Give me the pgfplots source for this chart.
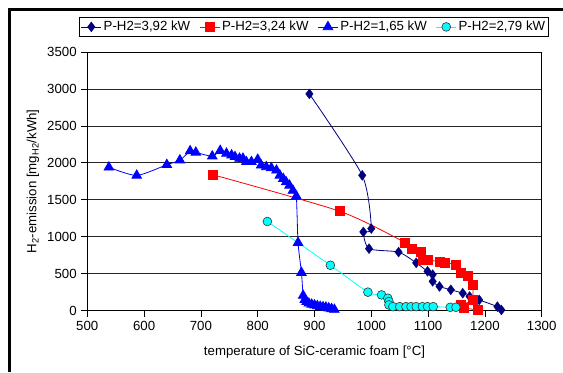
\documentclass[border=0pt]{standalone}
\usepackage{pgfplots}
\pgfplotsset{compat=1.18}
\usepackage{fontspec}
\setmainfont{Liberation Sans}
\definecolor{navyc}{RGB}{0,0,128}
\definecolor{redc}{RGB}{255,0,0}
\definecolor{bluec}{RGB}{0,0,255}
\definecolor{cyanc}{RGB}{0,255,255}
\begin{document}
\fontsize{13.3}{15}\selectfont
\begin{tikzpicture}[x=1bp,y=1bp]
\useasboundingbox (0,0) rectangle (563,372);
\draw[line width=3bp] (9.5,0) -- (9.5,362) -- (563,362);
\begin{axis}[
  at={(87.3bp,61.3bp)}, anchor=south west,
  scale only axis, width=454.4bp, height=258.7bp,
  xmin=500, xmax=1300, ymin=0, ymax=3500,
  xtick distance=100, ytick distance=500,
  ymajorgrids, grid style={black!85, line width=0.8bp},
  axis line style={line width=0.8bp},
  tick align=outside, tick pos=left, major tick length=6bp,
  tick style={black, line width=0.8bp},
  /pgf/number format/1000 sep={},
  /pgf/number format/assume math mode=true,
  ticklabel style={font=\fontsize{13.3}{15}\selectfont},
  xlabel={temperature of SiC-ceramic foam [°C]},
  ylabel={H\textsubscript{2}-emission [mg\textsubscript{H2}/kWh]},
  label style={font=\fontsize{13.3}{15}\selectfont},
  xlabel style={at={(axis description cs:0.5,-0.158)}, anchor=center},
  ylabel style={at={(axis description cs:-0.1195,0.5)}, anchor=center},
  legend columns=4,
  legend style={at={(0.499,1.097)}, anchor=center, draw=black, line width=0.6bp,
    font=\fontsize{13.3}{15}\selectfont, inner sep=1.5bp,
    /tikz/every even column/.append style={column sep=7bp}},
  legend image code/.code={%
    \draw[mark repeat=2,mark phase=2] plot coordinates {(0bp,0bp) (10bp,0bp) (20bp,0bp)};},
  legend image post style={line width=0.8bp},
]
\addplot[navyc, line width=0.8bp, smooth, tension=0.4, mark=diamond*, mark size=5bp, mark options={fill=navyc, draw=navyc, line width=0.3bp}] coordinates {
(891,2933) (984,1831) (1000,1111) (986,1066) (996,839) (1048,793) (1079,647)
(1099,533) (1108,488) (1108,397) (1120,328) (1140,283) (1161,237) (1173,192)
(1190,146) (1222,55) (1229,10)
};
\addlegendentry{P-H2=3,92 kW}
\addplot[redc, line width=0.8bp, smooth, tension=0.4, mark=square*, mark size=4.5bp, mark options={fill=redc, draw=redc}] coordinates {
(721,1840) (945,1344) (1060,920) (1071,838) (1088,793) (1091,693) (1100,693)
(1120,656) (1130,647) (1149,624) (1158,511) (1170,465) (1178,351) (1178,146)
(1158,78) (1163,40) (1187,10)
};
\addlegendentry{P-H2=3,24 kW}
\addplot[bluec, line width=0.8bp, smooth, tension=0.4, mark=triangle*, mark size=5.5bp, mark options={fill=bluec, draw=bluec}] coordinates {
(538,1940) (587,1830) (640,1975) (663,2036) (681,2160) (691,2141) (720,2090)
(734,2165) (745,2127) (754,2104) (760,2082) (768,2059) (774,2059) (780,2014)
(789,2014) (800,2045) (806,1967) (815,1945) (824,1932) (833,1899) (839,1831)
(845,1785) (850,1740) (856,1694) (862,1626) (868,1550) (871,920) (877,515)
(880,205) (883,150) (886,120) (890,100) (895,85) (900,75) (905,65) (910,55)
(915,50) (920,45) (925,35) (930,25) (935,15)
};
\addlegendentry{P-H2=1,65 kW}
\addplot[cyanc, line width=0.8bp, smooth, tension=0.4, mark=*, mark size=4.4bp, mark options={fill=cyanc, draw=black!80, line width=0.6bp}] coordinates {
(817,1207) (928,615) (994,251) (1018,214) (1029,169) (1031,124) (1031,78)
(1038,55) (1050,55) (1061,55) (1070,55) (1079,55) (1090,55) (1099,55)
(1109,55) (1139,46) (1149,46)
};
\addlegendentry{P-H2=2,79 kW}
\end{axis}
\end{tikzpicture}
\end{document}
